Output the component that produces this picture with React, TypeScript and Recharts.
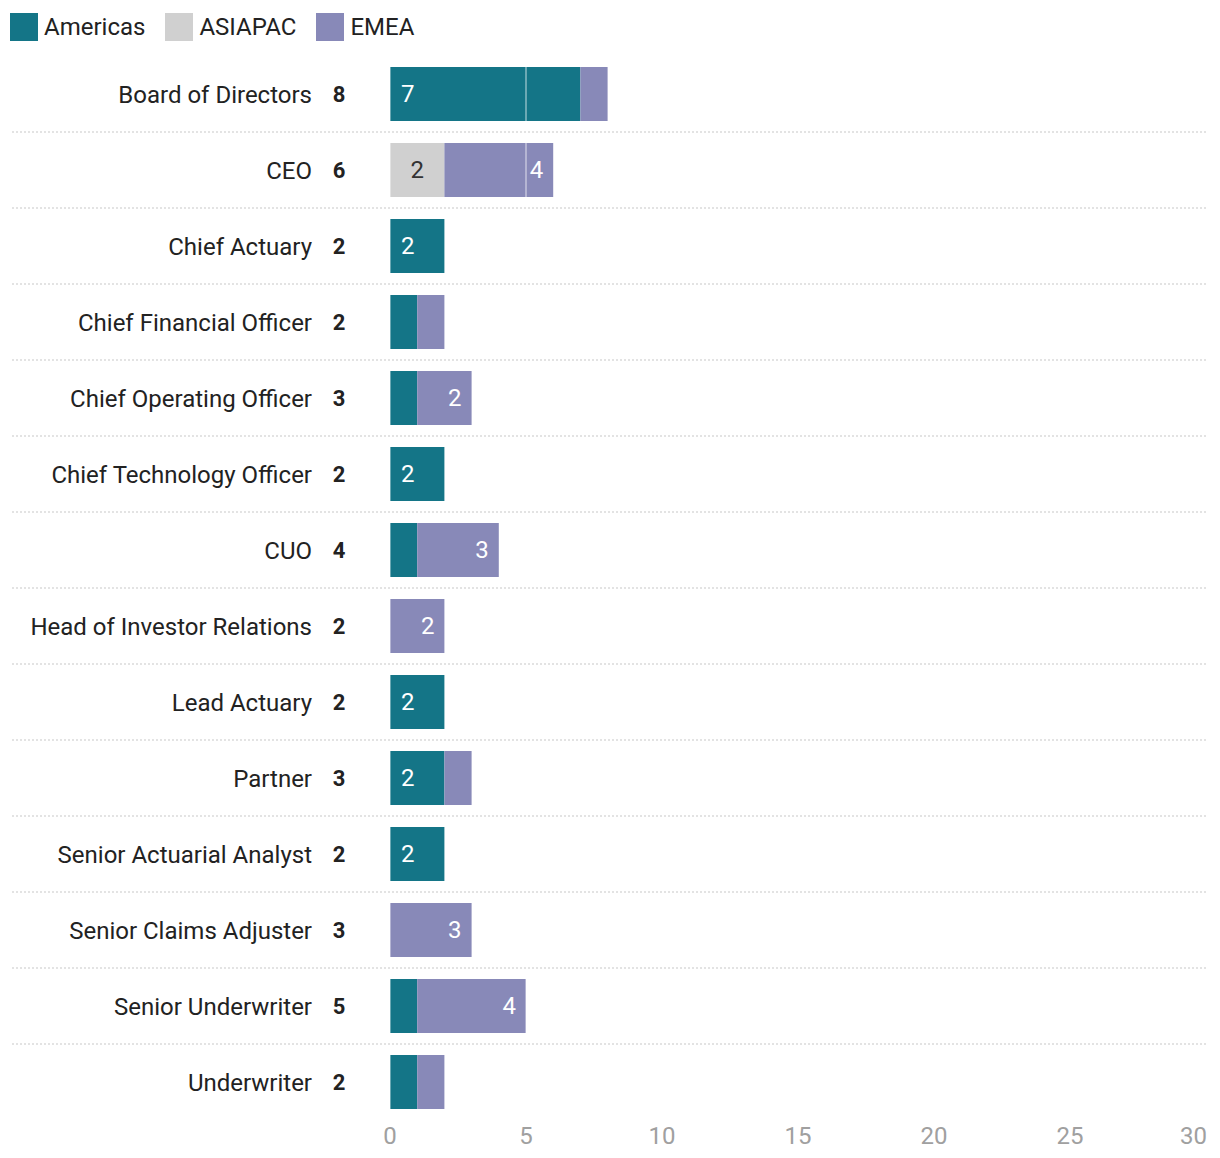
import React from "react";
import { BarChart, Bar, XAxis, YAxis, ReferenceLine, LabelList } from "recharts";

const categories = [
  "Board of Directors",
  "CEO",
  "Chief Actuary",
  "Chief Financial Officer",
  "Chief Operating Officer",
  "Chief Technology Officer",
  "CUO",
  "Head of Investor Relations",
  "Lead Actuary",
  "Partner",
  "Senior Actuarial Analyst",
  "Senior Claims Adjuster",
  "Senior Underwriter",
  "Underwriter",
];
const americas = [7, 0, 2, 1, 1, 2, 1, 0, 2, 2, 2, 0, 1, 1];
const asiapac = [0, 2, 0, 0, 0, 0, 0, 0, 0, 0, 0, 0, 0, 0];
const emea = [1, 4, 0, 1, 2, 0, 3, 2, 0, 1, 0, 3, 4, 1];
const xTicks = [0, 5, 10, 15, 20, 25, 30];

const seriesNames = ["Americas", "ASIAPAC", "EMEA"];
const seriesKeys = ["americas", "asiapac", "emea"];
const seriesColors = ["#147587", "#d0d0d0", "#8889b8"];

const data = categories.map((name, i) => ({
  name,
  americas: americas[i],
  asiapac: asiapac[i],
  emea: emea[i],
  total: americas[i] + asiapac[i] + emea[i],
}));

const FONT = "Roboto, 'Noto Sans', sans-serif";

const CategoryTick = (props: any) => {
  const { y, payload, index } = props;
  const row = data[index];
  const last = index === data.length - 1;
  return (
    <g>
      <text x={312} y={y} dy={9} textAnchor="end" fontSize={24} fill="#222" fontFamily={FONT}>
        {payload.value}
      </text>
      <text x={339} y={y} dy={8} textAnchor="middle" fontSize={22} fontWeight={700} fill="#222" fontFamily={FONT}>
        {row ? row.total : ""}
      </text>
      {!last && (
        <line x1={12} x2={1208} y1={y + 38} y2={y + 38} stroke="#c8c8c8" strokeWidth={1.2} strokeDasharray="2 2" />
      )}
    </g>
  );
};

const XTick = (props: any) => {
  const { x, y, payload, index } = props;
  const lastIdx = xTicks.length - 1;
  const anchor = index === lastIdx ? "end" : "middle";
  return (
    <text x={index === lastIdx ? x + 1 : x} y={y} dy={24} textAnchor={anchor} fontSize={24} fill="#a0a0a0" fontFamily={FONT}>
      {payload.value}
    </text>
  );
};

const makeLabel = (mode: "left" | "center" | "right", color: string) => (props: any) => {
  const { x, y, width, height, value } = props;
  if (!value || value < 2) return null;
  let tx = x + width / 2;
  let anchor: any = "middle";
  if (mode === "left") {
    tx = x + 11;
    anchor = "start";
  } else if (mode === "right") {
    tx = x + width - 10;
    anchor = "end";
  }
  return (
    <text x={tx} y={y + height / 2} dy={8} textAnchor={anchor} fontSize={24} fill={color} fontFamily={FONT}>
      {value}
    </text>
  );
};

const labelModes: ("left" | "center" | "right")[] = ["left", "center", "right"];
const labelColors = ["#ffffff", "#333333", "#ffffff"];

export default function App() {
  return (
    <div style={{ position: "absolute", left: 0, top: 0, width: 1220, height: 1158, background: "#fff", fontFamily: FONT }}>
      <div style={{ position: "absolute", left: 10, top: 13, display: "flex", alignItems: "center" }}>
        {seriesNames.map((n, i) => (
          <div key={n} style={{ display: "flex", alignItems: "center", marginRight: 20 }}>
            <div style={{ width: 28, height: 28, background: seriesColors[i], marginRight: 6 }} />
            <span style={{ fontSize: 24, color: "#222", lineHeight: "28px" }}>{n}</span>
          </div>
        ))}
      </div>
      <BarChart
        width={1220}
        height={1158}
        data={data}
        layout="vertical"
        margin={{ top: 56, right: 14, bottom: 0, left: 0 }}
        barSize={54}
      >
        <XAxis
          type="number"
          domain={[0, 30]}
          ticks={xTicks}
          axisLine={false}
          tickLine={false}
          tickSize={0}
          tickMargin={0}
          height={38}
          interval={0}
          tick={<XTick />}
        />
        <YAxis
          type="category"
          dataKey="name"
          width={390}
          axisLine={false}
          tickLine={false}
          interval={0}
          tick={<CategoryTick />}
        />
        {seriesKeys.map((k, i) => (
          <Bar key={k} dataKey={k} name={seriesNames[i]} stackId="a" fill={seriesColors[i]} isAnimationActive={false}>
            <LabelList dataKey={k} content={makeLabel(labelModes[i], labelColors[i])} />
          </Bar>
        ))}
        {xTicks.map((t) => (
          <ReferenceLine key={t} x={t} stroke="#ffffff" strokeOpacity={0.5} strokeWidth={1.5} />
        ))}
      </BarChart>
    </div>
  );
}
